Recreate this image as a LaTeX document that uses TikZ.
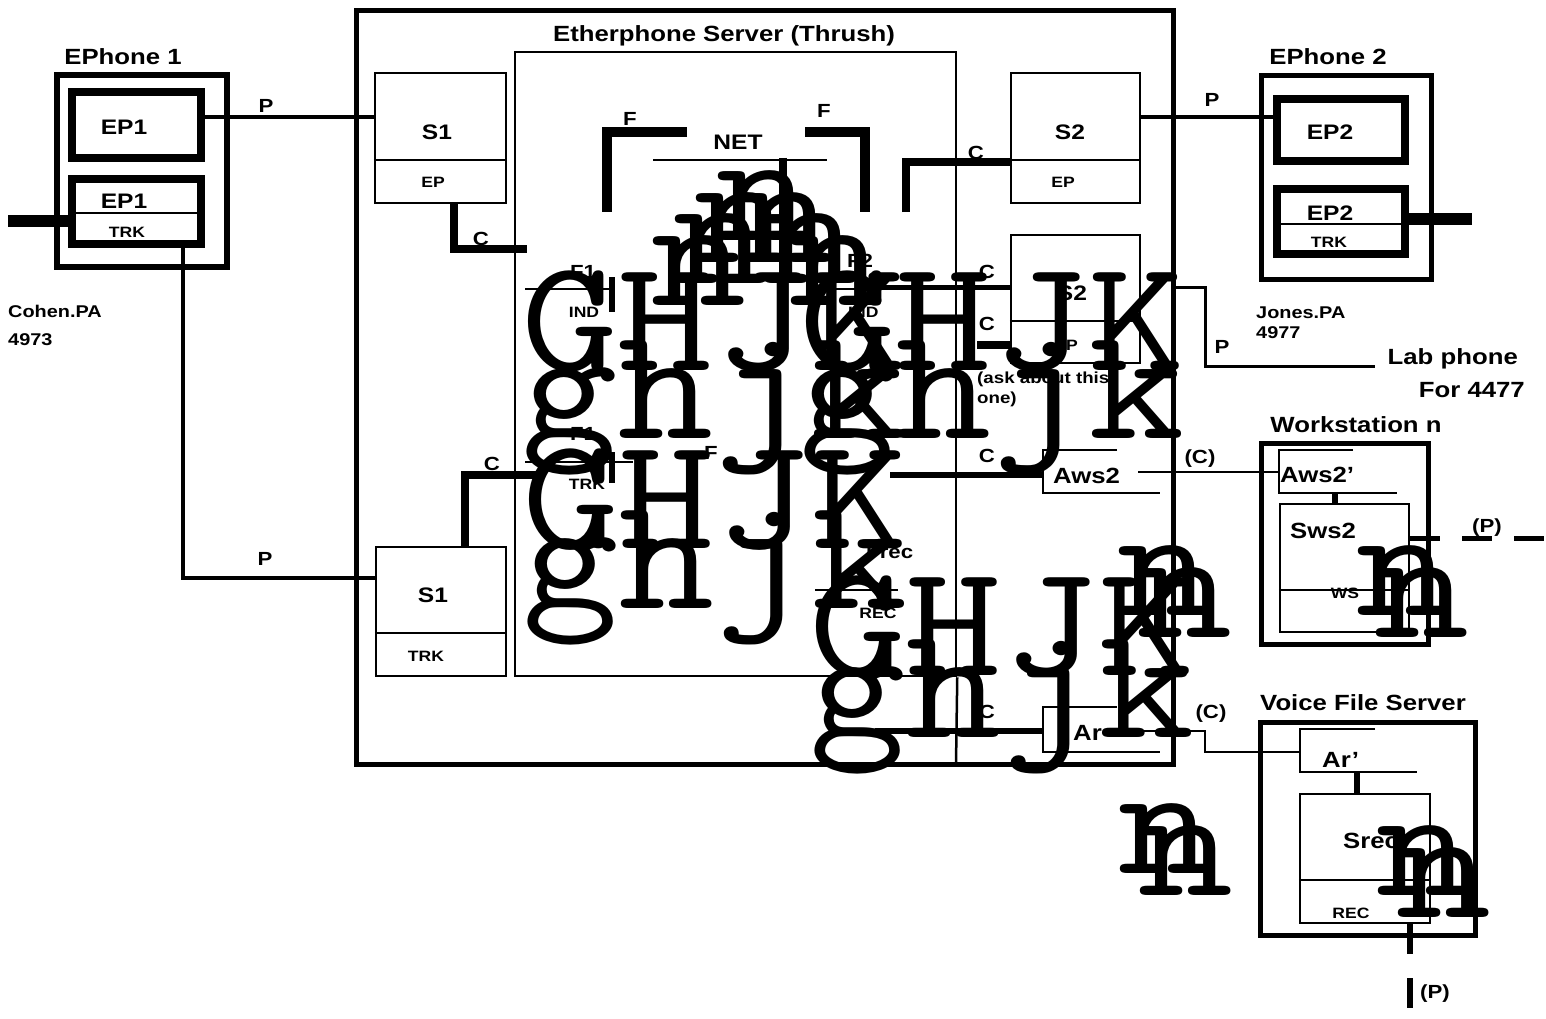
\documentclass[tikz,border=0pt]{standalone}
\usepackage{fontspec}
\usepackage{graphicx}
\newfontfamily\lab{Liberation Sans}[FakeStretch=1.17]
\newcommand\gb[1]{\scalebox{1.17}[1]{\ttfamily\fontsize{160}{160}\selectfont #1}}
\tikzset{
  lb/.style={inner sep=0pt, anchor=base, font=\lab\bfseries\fontsize{#1}{#1}\selectfont},
  lbw/.style={inner sep=0pt, anchor=base west, font=\lab\bfseries\fontsize{#1}{#1}\selectfont},
  lbe/.style={inner sep=0pt, anchor=base east, font=\lab\bfseries\fontsize{#1}{#1}\selectfont},
  bx/.style={draw, inner sep=0pt, line width=2.5pt},
  tl/.style={line width=2.5pt},
  pl/.style={line width=4.5pt},
  cl/.style={line width=8pt, line join=miter},
  fb/.style={line width=10pt, line join=miter},
  gl/.style={inner sep=0pt, anchor=base west},
}
\begin{document}
\begin{tikzpicture}[x=1pt,y=-1pt]
\useasboundingbox (0,0) rectangle (1546,1019);
\fill[white] (0,0) rectangle (1546,1019);

% ---------- boxes ----------
\node[bx, line width=6pt, minimum width=170pt, minimum height=192pt] (eph1) at (142,171) {};
\node[bx, line width=8pt, minimum width=129pt, minimum height=66pt] (ep1a) at (136.5,125) {};
\node[bx, line width=8pt, minimum width=129pt, minimum height=65pt] (ep1b) at (136.5,211.5) {};
\draw[line width=1.5pt] (ep1b.west |- 0,213) -- (ep1b.east |- 0,213);

\node[bx, line width=5pt, minimum width=817pt, minimum height=753pt] (srv) at (764.5,387.5) {};
\node[bx, minimum width=441pt, minimum height=624pt] (inner) at (735.5,364) {};
\draw[tl] (inner.south east) -- (956,764);

\node[bx, minimum width=131pt, minimum height=130pt] (s1a) at (440.5,138) {};
\draw[tl] (s1a.west |- 0,160) -- (s1a.east |- 0,160);
\node[bx, minimum width=130pt, minimum height=129pt] (s1b) at (441,611.5) {};
\draw[tl] (s1b.west |- 0,633) -- (s1b.east |- 0,633);
\node[bx, minimum width=129pt, minimum height=130pt] (s2a) at (1075.5,138) {};
\draw[tl] (s2a.west |- 0,160) -- (s2a.east |- 0,160);
\node[bx, minimum width=129pt, minimum height=128pt] (s2b) at (1075.5,299) {};
\draw[tl] (s2b.west |- 0,321) -- (s2b.east |- 0,321);

\node[bx, line width=5pt, minimum width=170pt, minimum height=203pt] (eph2) at (1346,177.5) {};
\node[bx, line width=8pt, minimum width=128pt, minimum height=62pt] (ep2a) at (1341,130) {};
\node[bx, line width=8pt, minimum width=128pt, minimum height=65pt] (ep2b) at (1341,221.5) {};
\draw[line width=1.5pt] (ep2b.west |- 0,224) -- (ep2b.east |- 0,224);

\node[bx, line width=5pt, minimum width=167pt, minimum height=201pt] (ws) at (1344.5,543.5) {};
\node[bx, minimum width=129pt, minimum height=128pt] (sws2) at (1344.5,568) {};
\draw[tl] (sws2.west |- 0,590) -- (sws2.east |- 0,590);
\node[bx, line width=5pt, minimum width=215pt, minimum height=213pt] (vfs) at (1367.5,828.5) {};
\node[bx, minimum width=130pt, minimum height=129pt] (srec) at (1365,858.5) {};
\draw[tl] (srec.west |- 0,880) -- (srec.east |- 0,880);

% open boxes
\draw[tl] (1117,450) -- (1043,450) -- (1043,493) -- (1160,493);
\draw[tl] (1117,707) -- (1043,707) -- (1043,752) -- (1160,752);
\draw[tl] (1353,450) -- (1279,450) -- (1279,493) -- (1397,493);
\draw[tl] (1375,729) -- (1300,729) -- (1300,772) -- (1417,772);

% ---------- connectors ----------
\coordinate (pA) at (375,117);
\draw[pl] (ep1a.east |- pA) -- (s1a.west |- pA);
\coordinate (pB) at (183,578);
\draw[pl] (ep1b.south -| pB) -- (pB) -- (s1b.west |- pB);
\coordinate (le) at (8,221);
\draw[line width=12pt] (le) -- (ep1b.west |- le);
\draw[pl] (s2a.east |- pA) -- (ep2a.west |- pA);
\coordinate (re) at (1472,219);
\draw[line width=12pt] (ep2b.east |- re) -- (re);

\coordinate (c1a) at (454,249); \coordinate (c1) at (527,249);
\draw[cl] (s1a.south -| c1a) -- (c1a) -- (c1);
\coordinate (c2a) at (465,475); \coordinate (c2) at (536,475);
\draw[cl] (s1b.north -| c2a) -- (c2a) -- (c2);
\coordinate (c3a) at (906,212); \coordinate (c3b) at (906,162);
\draw[cl] (c3a) -- (c3b) -- (s2a.west |- c3b);
\coordinate (c4) at (860,287);
\draw[line width=5pt] (c4) -- (s2b.west |- c4);
\coordinate (c5) at (977,345);
\draw[cl] (c5) -- (s2b.west |- c5);
\coordinate (c6) at (890,475);
\draw[line width=6pt] (c6) -- (1043,475);
\coordinate (c7) at (875,731);
\draw[line width=6pt] (c7) -- (1043,731);

\draw[fb] (687,132) -- (607,132) -- (607,212);
\draw[fb] (805,132) -- (865,132) -- (865,212);
\draw[tl] (653,160) -- (827,160);
\draw[line width=8pt] (783,158) -- (783,290);
\draw[line width=2pt] (525,289) -- (615,289);
\draw[line width=2pt] (820,289) -- (905,289);
\draw[line width=6pt] (612,277) -- (612,312);
\draw[line width=2pt] (525,462) -- (633,462);
\draw[line width=6pt] (612,452) -- (612,483);
\draw[line width=2pt] (815,590) -- (898,590);

\draw[line width=2pt] (1138,472) -- (1279,472);
\draw[line width=2pt] (1128,731) -- (1205,731) -- (1205,752) -- (1300,752);
\coordinate (lp) at (1375,366);
\draw[line width=3pt] (1175,287) -- (1205,287) -- (1205,366) -- (lp);
\draw[line width=6pt] (1335,493) -- (sws2.north -| 1335,0);
\draw[line width=6pt] (1357,772) -- (srec.north -| 1357,0);
\draw[line width=5pt, dash pattern=on 30pt off 22pt] (sws2.east |- 0,538) -- (1546,538);
\draw[line width=6pt, dash pattern=on 30pt off 24pt] (srec.south -| 1410,0) -- (1410,1008);

% ---------- labels ----------
\node[lb=22] (t1) at (123,65) {EPhone 1};
\node[lb=22] (t2) at (724,42) {Etherphone Server (Thrush)};
\node[lb=22] (t3) at (1328,65) {EPhone 2};
\node[lb=22] (t4) at (1356,432) {Workstation n};
\node[lb=22] (t5) at (1363,710) {Voice File Server};
\node[lbe=22] (t6) at (1518,364) {Lab phone};
\node[lbe=22] (t7) at (1525,397) {For 4477};

\node[lb=21] at (124,135) {EP1};
\node[lb=21] at (124,208) {EP1};
\node[lb=15] at (127,237) {TRK};
\node[lb=21] at (1330,140) {EP2};
\node[lb=21] at (1330,220) {EP2};
\node[lb=15] at (1329,247) {TRK};
\node[lb=21] at (437,140) {S1};
\node[lb=15] at (433,188) {EP};
\node[lb=21] at (433,602) {S1};
\node[lb=15] at (426,661) {TRK};
\node[lb=21] at (1070,140) {S2};
\node[lb=15] at (1063,188) {EP};
\node[lb=21] at (1072,300) {S2};
\node[lb=15] at (1066,350) {EP};
\node[lb=21] at (738,150) {NET};

\node[lbw=17] at (8,317) {Cohen.PA};
\node[lbw=17] at (8,345) {4973};
\node[lbw=17] at (1256,318) {Jones.PA};
\node[lbw=17] at (1256,338) {4977};
\node[lbw=16] at (977,383) {(ask about this};
\node[lbw=16] at (977,403) {one)};

\node[lb=19] at (266,113) {P};
\node[lb=19] at (265,565) {P};
\node[lb=19] at (1212,107) {P};
\node[lb=19] at (1222,353) {P};
\node[lb=19] at (481,245) {C};
\node[lb=19] at (492,470) {C};
\node[lb=19] at (976,160) {C};
\node[lb=19] at (987,278) {C};
\node[lb=19] at (987,330) {C};
\node[lb=19] at (987,462) {C};
\node[lb=19] at (987,718) {C};
\node[lb=19] at (1200,463) {(C)};
\node[lb=19] at (1211,718) {(C)};
\node[lb=19] at (1487,532) {(P)};
\node[lb=19] at (1435,998) {(P)};
\node[lb=19] at (630,126) {F};
\node[lb=19] at (824,118) {F};
\node[lb=19] at (711,459) {F};
\node[lb=19] at (583,278) {F1};
\node[lb=19] at (860,267) {F2};
\node[lb=19] at (583,440) {F1};
\node[lbw=19] at (866,558) {Frec};
\node[lb=15] at (584,317) {IND};
\node[lbw=15] at (848,317) {IND};
\node[lb=15] at (587,489) {TRK};
\node[lb=15] at (878,618) {REC};
\node[lbw=22] (aws2) at (1053,483) {Aws2};
\node[lbw=22] (aws2p) at (1280,482) {Aws2’};
\node[lbw=22] (sws2t) at (1290,538) {Sws2};
\node[lb=15] at (1345,598) {WS};
\node[lbw=22] (ar) at (1073,740) {Ar};
\node[lbw=22] (arp) at (1322,767) {Ar’};
\node[lbw=22] (srect) at (1343,848) {Srec};
\node[lb=15] at (1351,918) {REC};

% ---------- stray glyphs ----------
\node[gl] (gA1) at (521,370) {\gb{GHJK}};
\node[gl] (gA2) at (521,438) {\gb{ghjk}};
\node[gl] (gA3) at (799,370) {\gb{GHJK}};
\node[gl] (gA4) at (799,438) {\gb{ghjk}};
\node[gl] (gB1) at (522,548) {\gb{GHJK}};
\node[gl] (gB2) at (522,608) {\gb{ghjk}};
\node[gl] (gC1) at (809,675) {\gb{GHJK}};
\node[gl] (gC2) at (809,737) {\gb{ghjk}};
\foreach \x/\y [count=\i] in {715/240,693/262,672/283,650/305,737/262,762/283,788/305,
  1116/615,1136/637,1355/615,1373/637,1117/873,1137/895,1375/895,1395/917}
  \node[gl] (n\i) at (\x,\y) {\gb{n}};
\end{tikzpicture}
\end{document}
